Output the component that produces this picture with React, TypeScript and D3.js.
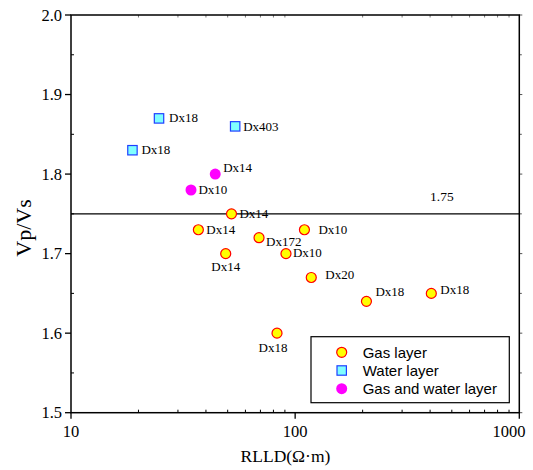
import React from "react";
import * as d3 from "d3";

// Gas layer samples
const gasRes = [52, 37, 69, 110, 49, 91, 118, 208, 405, 83];
const gasRatio = [1.75, 1.73, 1.72, 1.73, 1.70, 1.70, 1.67, 1.64, 1.65, 1.60];
const gasWells = ["Dx14", "Dx14", "Dx172", "Dx10", "Dx14", "Dx10", "Dx20", "Dx18", "Dx18", "Dx18"];

// Water layer samples
const waterRes = [24.7, 54, 18.8];
const waterRatio = [1.87, 1.86, 1.83];
const waterWells = ["Dx18", "Dx403", "Dx18"];

// Gas and water layer samples
const mixRes = [44, 34.3];
const mixRatio = [1.80, 1.78];
const mixWells = ["Dx14", "Dx10"];

const threshold = 1.75;
const yTicks = [1.5, 1.6, 1.7, 1.8, 1.9, 2.0];
const xTicks = [10, 100, 1000];
const legendItems = ["Gas layer", "Water layer", "Gas and water layer"];

// label placement relative to each marker: [dx, dy, anchor]
const gasLabelPos: [number, number, string][] = [
  [8, 4.5, "start"], [8, 4, "start"], [7, 8.5, "start"], [14, 4.5, "start"],
  [0, 17, "middle"], [7, 3.5, "start"], [14, 2, "start"], [9, -5, "start"],
  [9, 1, "start"], [-4, 19, "middle"],
];
const waterLabelPos: [number, number][] = [[10, 4], [8, 5], [9, 4]];
const mixLabelPos: [number, number][] = [[8, -2], [7.5, 4.5]];

const W = 533, H = 470;
const M = { left: 71, right: 519.3, top: 15, bottom: 412.7 };
const serif = "'Liberation Serif', 'Times New Roman', serif";
const sans = "'Liberation Sans', Arial, sans-serif";

export default function App() {
  const x = d3.scaleLog().domain([10, 1000]).range([M.left, M.right]);
  const y = d3.scaleLinear().domain([1.5, 2.0]).range([M.bottom, M.top]);

  const minorX: number[] = [];
  for (const dec of [10, 100]) for (let k = 2; k <= 9; k++) minorX.push(dec * k);
  const minorY = [1.55, 1.65, 1.75, 1.85, 1.95];

  const gasColor = "#ffff00", gasStroke = "#ff0000";
  const waterFill = "#80ffff", waterStroke = "#1f3fff";
  const mixColor = "#ff00ff";

  return (
    <svg width={W} height={H} style={{ position: "absolute", left: 0, top: 0, background: "#fff" }}>
      {/* minor ticks */}
      {minorX.map((v) => (
        <g key={"mx" + v} stroke="#000" strokeWidth={1}>
          <line x1={x(v)} x2={x(v)} y1={M.bottom} y2={M.bottom - 3} />
          <line x1={x(v)} x2={x(v)} y1={M.top} y2={M.top + 2.5} stroke="#777" />
        </g>
      ))}
      {minorY.map((v) => (
        <g key={"my" + v} stroke="#000" strokeWidth={1}>
          <line x1={M.left} x2={M.left + 3} y1={y(v)} y2={y(v)} />
          <line x1={M.right} x2={M.right + 2.5} y1={y(v)} y2={y(v)} stroke="#555" />
        </g>
      ))}
      {/* major ticks and labels */}
      {yTicks.map((v) => (
        <g key={"yt" + v}>
          <line x1={M.left - 6} x2={M.left} y1={y(v)} y2={y(v)} stroke="#000" strokeWidth={1.3} />
          <line x1={M.right} x2={M.right + 3} y1={y(v)} y2={y(v)} stroke="#555" strokeWidth={1} />
          <text x={M.left - 9} y={y(v) + 5.5} textAnchor="end" fontFamily={serif} fontSize={16.5}>
            {d3.format(".1f")(v)}
          </text>
        </g>
      ))}
      {xTicks.map((v) => (
        <g key={"xt" + v}>
          <line x1={x(v)} x2={x(v)} y1={M.bottom} y2={M.bottom + 6} stroke="#000" strokeWidth={1.3} />
          <text
            x={Math.min(x(v), W - 7 - 17)}
            y={M.bottom + 24}
            textAnchor="middle"
            fontFamily={serif}
            fontSize={16.5}
          >
            {v}
          </text>
        </g>
      ))}
      {/* frame */}
      <rect
        x={M.left}
        y={M.top}
        width={M.right - M.left}
        height={M.bottom - M.top}
        fill="none"
        stroke="#000"
        strokeWidth={1.5}
      />
      {/* threshold line */}
      <line x1={M.left} x2={M.right} y1={y(threshold)} y2={y(threshold)} stroke="#000" strokeWidth={1.3} />
      <text x={x(400)} y={y(threshold) - 12.5} fontFamily={serif} fontSize={13.5}>
        {threshold.toFixed(2)}
      </text>

      {/* water layer */}
      {waterRes.map((r, i) => (
        <g key={"w" + i}>
          <rect
            x={x(r) - 4.7}
            y={y(waterRatio[i]) - 4.7}
            width={9.4}
            height={9.4}
            fill={waterFill}
            stroke={waterStroke}
            strokeWidth={1.2}
          />
          <text
            x={x(r) + waterLabelPos[i][0]}
            y={y(waterRatio[i]) + waterLabelPos[i][1]}
            fontFamily={serif}
            fontSize={13}
          >
            {waterWells[i]}
          </text>
        </g>
      ))}
      {/* gas and water layer */}
      {mixRes.map((r, i) => (
        <g key={"m" + i}>
          <circle cx={x(r)} cy={y(mixRatio[i])} r={5.5} fill={mixColor} />
          <text
            x={x(r) + mixLabelPos[i][0]}
            y={y(mixRatio[i]) + mixLabelPos[i][1]}
            fontFamily={serif}
            fontSize={13}
          >
            {mixWells[i]}
          </text>
        </g>
      ))}
      {/* gas layer */}
      {gasRes.map((r, i) => (
        <g key={"g" + i}>
          <circle cx={x(r)} cy={y(gasRatio[i])} r={5} fill={gasColor} stroke={gasStroke} strokeWidth={1.2} />
          <text
            x={x(r) + gasLabelPos[i][0]}
            y={y(gasRatio[i]) + gasLabelPos[i][1]}
            textAnchor={gasLabelPos[i][2]}
            fontFamily={serif}
            fontSize={13}
          >
            {gasWells[i]}
          </text>
        </g>
      ))}

      {/* legend */}
      <g>
        <rect x={311} y={336.7} width={198.3} height={66} fill="#fff" stroke="#000" strokeWidth={1.2} />
        {legendItems.map((t, i) => {
          const cy = 352.3 + i * 18.2;
          return (
            <g key={t}>
              {i === 0 && <circle cx={341.7} cy={cy} r={5} fill={gasColor} stroke={gasStroke} strokeWidth={1.2} />}
              {i === 1 && (
                <rect x={337} y={cy - 4.7} width={9.4} height={9.4} fill={waterFill} stroke={waterStroke} strokeWidth={1.2} />
              )}
              {i === 2 && <circle cx={341.7} cy={cy} r={5.5} fill={mixColor} />}
              <text x={362.7} y={cy + 5.3} fontFamily={sans} fontSize={15}>
                {t}
              </text>
            </g>
          );
        })}
      </g>

      {/* axis titles */}
      <text x={285.5} y={461.5} textAnchor="middle" fontFamily={serif} fontSize={17.5}>
        RLLD(Ω·m)
      </text>
      <text
        transform={`translate(31, 228) rotate(-90)`}
        textAnchor="middle"
        fontFamily={serif}
        fontSize={22}
      >
        Vp/Vs
      </text>
    </svg>
  );
}
